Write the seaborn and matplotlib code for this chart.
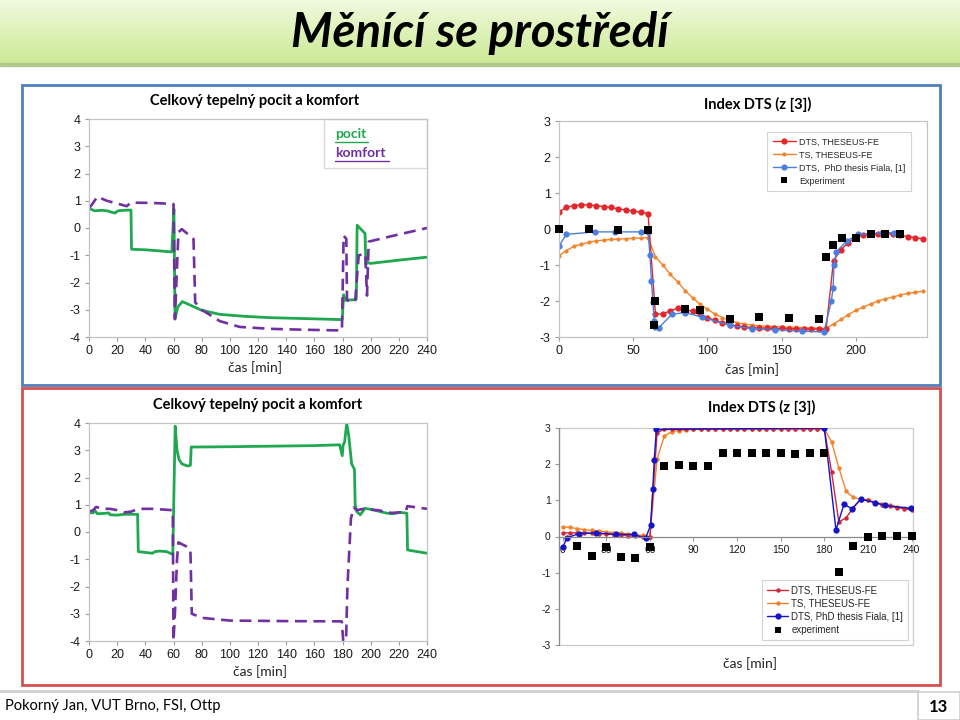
import numpy as np
import matplotlib
matplotlib.use('Agg')
import matplotlib.pyplot as plt
import seaborn as sns
from matplotlib.lines import Line2D
from matplotlib.patches import Rectangle
from matplotlib.colors import to_rgb

sns.set_theme(style="white")
plt.rcParams['font.family'] = ['Liberation Sans', 'DejaVu Sans']
plt.rcParams['axes.unicode_minus'] = False

# ---------------- data ----------------
# top left: thermal sensation (pocit) and comfort (komfort)
tl_pocit_t = [0, 1, 4, 9, 13, 16, 18.5, 20.5, 25, 29.8, 30.2, 40, 50, 58.8, 60.3, 61.1, 63, 66.3,
              80, 93, 110, 128, 150, 178, 179.8, 180.8, 182, 189, 189.8, 190.4, 196, 196.6, 197.2,
              199.8, 220, 240]
tl_pocit_v = [0.8, 0.7, 0.63, 0.65, 0.63, 0.58, 0.55, 0.63, 0.65, 0.66, -0.78, -0.8, -0.84, -0.88,
              0.7, -3.34, -2.9, -2.7, -3.02, -3.17, -3.24, -3.29, -3.32, -3.36, -3.36, -2.45, -2.65,
              -2.63, -2.6, 0.1, -0.2, -1.35, -1.25, -1.3, -1.18, -1.07]
tl_komf_t = [0, 2, 5.9, 12.6, 20, 26.8, 29.6, 45, 60, 61, 63.5, 65.9, 74.2, 75.4, 80, 93, 107,
             128.7, 150, 179.6, 180.8, 182.7, 183.2, 189, 191.5, 196.2, 197.4, 198.6, 216.4, 240]
tl_komf_v = [0.73, 0.85, 1.15, 1.0, 0.9, 0.8, 0.93, 0.92, 0.88, -3.34, -0.16, -0.04, -0.4, -2.73,
             -3.0, -3.42, -3.63, -3.7, -3.73, -3.76, -0.28, -0.4, -2.65, -2.7, -1.0, -0.95, -2.48,
             -0.5, -0.28, 0.0]

# top right: DTS index, every 5 min
tr_t = [0, 5, 10, 15, 20, 25, 30, 35, 40, 45, 50, 55, 60, 65, 70, 75, 80, 85, 90, 95, 100, 105,
        110, 115, 120, 125, 130, 135, 140, 145, 150, 155, 160, 165, 170, 175, 180, 185, 190, 195,
        200, 205, 210, 215, 220, 225, 230, 235, 240, 245]
tr_dts = [0.48, 0.6, 0.65, 0.67, 0.67, 0.65, 0.62, 0.6, 0.56, 0.53, 0.5, 0.46, 0.43, -2.36, -2.36,
          -2.27, -2.2, -2.23, -2.29, -2.37, -2.46, -2.54, -2.6, -2.66, -2.7, -2.72, -2.74, -2.75,
          -2.75, -2.76, -2.76, -2.77, -2.77, -2.78, -2.78, -2.78, -2.78, -0.88, -0.57, -0.38,
          -0.22, -0.17, -0.15, -0.13, -0.13, -0.15, -0.17, -0.21, -0.24, -0.27]
tr_ts = [-0.74, -0.6, -0.48, -0.42, -0.37, -0.33, -0.31, -0.29, -0.28, -0.27, -0.26, -0.25, -0.24,
         -0.77, -1.0, -1.26, -1.47, -1.71, -1.91, -2.09, -2.23, -2.36, -2.46, -2.54, -2.6, -2.64,
         -2.67, -2.69, -2.7, -2.71, -2.72, -2.73, -2.73, -2.74, -2.75, -2.75, -2.76, -2.64, -2.51,
         -2.38, -2.26, -2.17, -2.08, -2.0, -1.94, -1.89, -1.83, -1.79, -1.76, -1.73]
tr_fiala_t = [0, 5, 24, 38, 55, 60, 61.3, 62.3, 63.3, 64.2, 64.7, 67.4, 76, 85, 96.5, 115.4, 130,
              145.9, 164, 178.6, 183.5, 184.7, 185.3, 187, 194, 201.8, 210, 218, 226]
tr_fiala_v = [-0.47, -0.15, -0.08, -0.08, -0.08, -0.08, -0.73, -1.44, -2.02, -2.55, -2.73, -2.74,
              -2.37, -2.32, -2.45, -2.68, -2.77, -2.8, -2.84, -2.86, -2.0, -1.65, -1.0, -0.63,
              -0.33, -0.15, -0.13, -0.1, -0.1]
tr_exp_t = [0, 20, 40, 60, 64, 65, 85, 95, 115, 135, 155, 175, 180, 184.5, 190.5, 200, 210, 220, 230]
tr_exp_v = [0.0, 0.0, -0.02, -0.02, -2.66, -2.0, -2.22, -2.25, -2.5, -2.44, -2.46, -2.5, -0.79,
            -0.45, -0.24, -0.26, -0.14, -0.15, -0.14]

# bottom left
bl_pocit_t = [0, 3, 4, 6, 10, 14, 15, 20, 25, 30, 34.5, 35, 40, 45, 47, 50, 55, 59.5, 60.5, 61.2,
              62.5, 64, 66, 70, 72, 72.6, 80, 100, 130, 160, 178, 179.8, 180.5, 181.5, 183, 184.5,
              186.5, 188.5, 189, 190.2, 192.6, 196, 202, 211.5, 216, 221, 225.7, 226.2, 233, 240]
bl_pocit_v = [0.72, 0.7, 0.8, 0.67, 0.68, 0.7, 0.63, 0.62, 0.65, 0.65, 0.65, -0.72, -0.75, -0.78,
              -0.72, -0.7, -0.72, -0.82, 2.0, 3.88, 3.0, 2.65, 2.5, 2.42, 2.45, 3.12, 3.12, 3.13,
              3.15, 3.17, 3.2, 2.8, 3.2, 3.3, 4.0, 3.5, 2.5, 2.3, 1.0, 0.75, 0.63, 0.87, 0.81, 0.69,
              0.67, 0.72, 0.69, -0.66, -0.72, -0.78]
bl_komf_t = [0, 3, 5, 10, 15, 20, 25, 30, 35, 45, 59.5, 60, 61, 62.5, 63.5, 66, 70, 72, 73, 80, 90,
             100, 140, 179.5, 180.5, 182.5, 183.5, 186, 188, 190, 195, 200, 205, 210, 215, 220,
             225, 226, 240]
bl_komf_v = [0.75, 0.8, 0.92, 0.85, 0.85, 0.8, 0.72, 0.75, 0.85, 0.85, 0.8, -4.0, -3.0, -1.0, -0.38,
             -0.45, -0.55, -0.65, -3.0, -3.15, -3.2, -3.25, -3.27, -3.28, -4.0, -4.0, -2.0, 0.5,
             0.9, 0.8, 0.85, 0.82, 0.8, 0.75, 0.7, 0.72, 0.75, 0.95, 0.85]

# bottom right: DTS index, every 5 min
br_t = [0, 5, 10, 15, 20, 25, 30, 35, 40, 45, 50, 55, 60, 65, 70, 75, 80, 85, 90, 95, 100, 105,
        110, 115, 120, 125, 130, 135, 140, 145, 150, 155, 160, 165, 170, 175, 180, 185, 190, 195,
        200, 205, 210, 215, 220, 225, 230, 235, 240]
br_dts = [0.1, 0.1, 0.1, 0.1, 0.09, 0.08, 0.07, 0.05, 0.04, 0.02, 0.01, -0.01, -0.02, 2.87, 2.97,
          2.98, 2.98, 2.98, 2.98, 2.98, 2.98, 2.98, 2.98, 2.98, 2.98, 2.98, 2.98, 2.98, 2.98, 2.98,
          2.98, 2.98, 2.98, 2.98, 2.98, 2.98, 2.98, 1.78, 0.4, 0.52, 0.8, 1.02, 1.0, 0.93, 0.88,
          0.83, 0.8, 0.77, 0.73]
br_ts = [0.27, 0.25, 0.22, 0.19, 0.17, 0.15, 0.13, 0.11, 0.09, 0.07, 0.05, 0.03, 0.0, 2.15, 2.78,
         2.9, 2.93, 2.95, 2.97, 2.97, 2.97, 2.97, 2.97, 2.97, 2.97, 2.97, 2.97, 2.97, 2.97, 2.97,
         2.97, 2.97, 2.97, 2.97, 2.97, 2.97, 2.97, 2.62, 1.9, 1.25, 1.08, 1.03, 1.0, 0.95, 0.9,
         0.86, 0.82, 0.78, 0.77]
br_fiala_t = [0, 3, 11, 23, 37, 49, 57, 60.5, 62, 63, 64.5, 180, 188, 193.5, 199, 205, 215, 221.5,
              239.5]
br_fiala_v = [-0.3, -0.04, 0.08, 0.1, 0.06, 0.06, -0.05, 0.31, 1.3, 2.12, 2.96, 3.0, 0.18, 0.89,
              0.77, 1.03, 0.94, 0.86, 0.78]
br_exp_t = [10, 20, 30, 40, 50, 60, 70, 80, 90, 100, 110, 120, 130, 140, 150, 160, 170, 180, 190,
            200, 210, 220, 230, 240]
br_exp_v = [-0.26, -0.55, -0.28, -0.56, -0.59, -0.3, 1.96, 1.99, 1.96, 1.96, 2.31, 2.31, 2.31, 2.31,
            2.31, 2.29, 2.32, 2.32, -0.98, -0.26, -0.02, 0.02, 0.02, 0.02]

TL_TICKS_X = [0, 20, 40, 60, 80, 100, 120, 140, 160, 180, 200, 220, 240]
TL_TICKS_Y = [-4, -3, -2, -1, 0, 1, 2, 3, 4]
TR_TICKS_X = [0, 50, 100, 150, 200]
BR_TICKS_X = [0, 30, 60, 90, 120, 150, 180, 210, 240]
DTS_TICKS_Y = [-3, -2, -1, 0, 1, 2, 3]

# colours
GREEN = '#1fa84f'
PURPLE = '#7030a0'
RED = '#e3262b'
ORANGE = '#f0852d'
BLUE = '#4a7fe0'
NAVY = '#1414c8'
RED2 = '#d0283a'
CAL = ['Lato', 'DejaVu Sans']

W, H = 960, 720
fig = plt.figure(figsize=(9.6, 7.2), dpi=100)

# background layer in pixel coordinates
bg = fig.add_axes([0, 0, 1, 1])
bg.set_xlim(0, W)
bg.set_ylim(H, 0)
bg.axis('off')

# banner gradient
top = np.array(to_rgb('#f1fadd'))
bot = np.array(to_rgb('#cbe996'))
g = np.linspace(0, 1, 64)[:, None, None]
grad = np.repeat(top * (1 - g) + bot * g, 2, axis=1)
bg.imshow(grad, extent=[0, W, 63, 0], aspect='auto', zorder=1)
bg.add_patch(Rectangle((0, 63), W, 3, color='#b3c98c', zorder=1))
bg.text(480, 33, 'Měnící se prostředí', ha='center', va='center', fontsize=34,
        fontweight='bold', fontstyle='italic', family=CAL, color='black', zorder=2)

# section frames
bg.add_patch(Rectangle((22, 85), 918, 300, fill=False, ec='#4f81bd', lw=2, zorder=2))
bg.add_patch(Rectangle((22, 388), 918, 297, fill=False, ec='#d65050', lw=2, zorder=2))

# footer
bg.plot([0, 918], [691, 691], color='#cfcfcf', lw=2, zorder=1)
bg.add_patch(Rectangle((918, 692), 42, 28, fc='white', ec='#d0d0d0', lw=1.2, zorder=2))
bg.text(5, 706, 'Pokorný Jan, VUT Brno, FSI, Ottp', ha='left', va='center', fontsize=10.5,
        family=CAL, color='black')
bg.text(938, 707, '13', ha='center', va='center', fontsize=12, fontweight='bold', family=CAL,
        color='black')

# chart titles and x labels
for (x, y, s) in [(255, 101, 'Celkový tepelný pocit a komfort'), (758, 104, 'Index DTS (z [3])'),
                  (258, 405, 'Celkový tepelný pocit a komfort'), (762, 407, 'Index DTS (z [3])')]:
    bg.text(x, y, s, ha='center', va='center', fontsize=10.5, fontweight='bold', family=CAL,
            color='black')
for (x, y) in [(255, 368), (752, 370), (260, 672), (750, 664)]:
    bg.text(x, y, 'čas [min]', ha='center', va='center', fontsize=10, family=CAL, color='#222222')

# top-left custom legend (underlined coloured words)
bg.add_patch(Rectangle((324, 119), 103, 49, fc='white', ec='#d9d9d9', lw=1, zorder=3))
bg.text(335, 134, 'pocit', color=GREEN, fontsize=10, fontweight='bold', family=CAL, va='center',
        zorder=4)
bg.plot([335, 368], [142, 142], color=GREEN, lw=1, zorder=4)
bg.text(335, 153, 'komfort', color=PURPLE, fontsize=10, fontweight='bold', family=CAL,
        va='center', zorder=4)
bg.plot([335, 389], [161, 161], color=PURPLE, lw=1, zorder=4)


def px_axes(x0, y0, x1, y1):
    ax = fig.add_axes([x0 / W, 1 - y1 / H, (x1 - x0) / W, (y1 - y0) / H])
    ax.set_facecolor('none')
    return ax


def style(ax, xlim, ylim, xticks, yticks, size):
    ax.set_xlim(xlim)
    ax.set_ylim(ylim)
    ax.set_xticks(xticks)
    ax.set_yticks(yticks)
    for s in ax.spines.values():
        s.set_color('#c4c4c4')
        s.set_linewidth(0.9)
    ax.tick_params(axis='both', bottom=True, left=True, length=3, width=0.8, color='#9a9a9a',
                   labelsize=size, labelcolor='#1a1a1a', pad=3)
    ax.set_xlabel('')
    ax.set_ylabel('')
    ax.grid(False)


def comfort_chart(ax, pt, pv, kt, kv):
    sns.lineplot(x=pt, y=pv, ax=ax, color=GREEN, lw=2.0, estimator=None, sort=False)
    sns.lineplot(x=kt, y=kv, ax=ax, color=PURPLE, lw=1.9, estimator=None, sort=False,
                 dashes=False, linestyle=(0, (4.5, 2.5)))
    style(ax, (0, 240), (-4, 4), TL_TICKS_X, TL_TICKS_Y, 9)


# ---- top left ----
ax1 = px_axes(89, 119, 427, 337)
comfort_chart(ax1, tl_pocit_t, tl_pocit_v, tl_komf_t, tl_komf_v)

# ---- bottom left ----
ax3 = px_axes(89, 423, 427, 641)
comfort_chart(ax3, bl_pocit_t, bl_pocit_v, bl_komf_t, bl_komf_v)

# ---- top right ----
ax2 = px_axes(559, 121, 927, 337)
sns.lineplot(x=tr_t, y=tr_ts, ax=ax2, color=ORANGE, lw=1.0, marker='o', markersize=3,
             markeredgewidth=0, estimator=None, sort=False)
sns.lineplot(x=tr_t, y=tr_dts, ax=ax2, color=RED, lw=1.0, marker='o', markersize=4.5,
             markeredgewidth=0, estimator=None, sort=False)
sns.lineplot(x=tr_fiala_t, y=tr_fiala_v, ax=ax2, color=BLUE, lw=1.0, marker='o', markersize=4.5,
             markeredgewidth=0, estimator=None, sort=False)
sns.scatterplot(x=tr_exp_t, y=tr_exp_v, ax=ax2, color='black', marker='s', s=40, linewidth=0,
                zorder=5, clip_on=False)
style(ax2, (0, 248), (-3, 3), TR_TICKS_X, DTS_TICKS_Y, 9)
h2 = [Line2D([0], [0], color=RED, lw=1, marker='o', ms=4.5, mew=0),
      Line2D([0], [0], color=ORANGE, lw=1, marker='o', ms=3, mew=0),
      Line2D([0], [0], color=BLUE, lw=1, marker='o', ms=4.5, mew=0),
      Line2D([0], [0], color='black', lw=0, marker='s', ms=5, mew=0)]
leg2 = ax2.legend(h2, ['DTS, THESEUS-FE', 'TS, THESEUS-FE', 'DTS,  PhD thesis Fiala, [1]',
                       'Experiment'], loc='upper right', bbox_to_anchor=(0.968, 0.97),
                  fontsize=6.5, frameon=True, fancybox=False, edgecolor='#c8c8c8',
                  handlelength=2.6, handletextpad=0.3, labelspacing=0.45, borderpad=0.6)
leg2.get_frame().set_linewidth(0.8)

# ---- bottom right ----
ax4 = px_axes(559, 428, 913, 645)
sns.lineplot(x=br_t, y=br_ts, ax=ax4, color=ORANGE, lw=1.0, marker='o', markersize=3.2,
             markeredgewidth=0, estimator=None, sort=False)
sns.lineplot(x=br_t, y=br_dts, ax=ax4, color=RED2, lw=1.0, marker='o', markersize=3.2,
             markeredgewidth=0, estimator=None, sort=False)
sns.lineplot(x=br_fiala_t, y=br_fiala_v, ax=ax4, color=NAVY, lw=1.0, marker='o', markersize=4.5,
             markeredgewidth=0, estimator=None, sort=False)
sns.scatterplot(x=br_exp_t, y=br_exp_v, ax=ax4, color='black', marker='s', s=26, linewidth=0,
                zorder=5, clip_on=False)
style(ax4, (-2.5, 241), (-3, 3), BR_TICKS_X, DTS_TICKS_Y, 7.5)
ax4.spines['bottom'].set_position(('data', 0))
ax4.spines['bottom'].set_color('#8a8a8a')
ax4.spines['left'].set_color('#8a8a8a')
ax4.spines['top'].set_visible(False)
ax4.spines['right'].set_visible(False)
ax4.add_patch(Rectangle((0, 0), 1, 1, transform=ax4.transAxes, fill=False, ec='#cccccc', lw=0.9,
                        clip_on=False, zorder=0))
h4 = [Line2D([0], [0], color=RED2, lw=1, marker='o', ms=3.2, mew=0),
      Line2D([0], [0], color=ORANGE, lw=1, marker='o', ms=3.2, mew=0),
      Line2D([0], [0], color=NAVY, lw=1, marker='o', ms=4.5, mew=0),
      Line2D([0], [0], color='black', lw=0, marker='s', ms=4.5, mew=0)]
leg4 = ax4.legend(h4, ['DTS, THESEUS-FE', 'TS, THESEUS-FE', 'DTS, PhD thesis Fiala, [1]',
                       'experiment'], loc='lower right', bbox_to_anchor=(1.0, 0.0),
                  fontsize=7, frameon=True, fancybox=False, edgecolor='#c8c8c8',
                  handlelength=2.2, handletextpad=0.3, labelspacing=0.35, borderpad=0.5)
leg4.get_frame().set_linewidth(0.8)

fig.savefig('out.png', dpi=100)
